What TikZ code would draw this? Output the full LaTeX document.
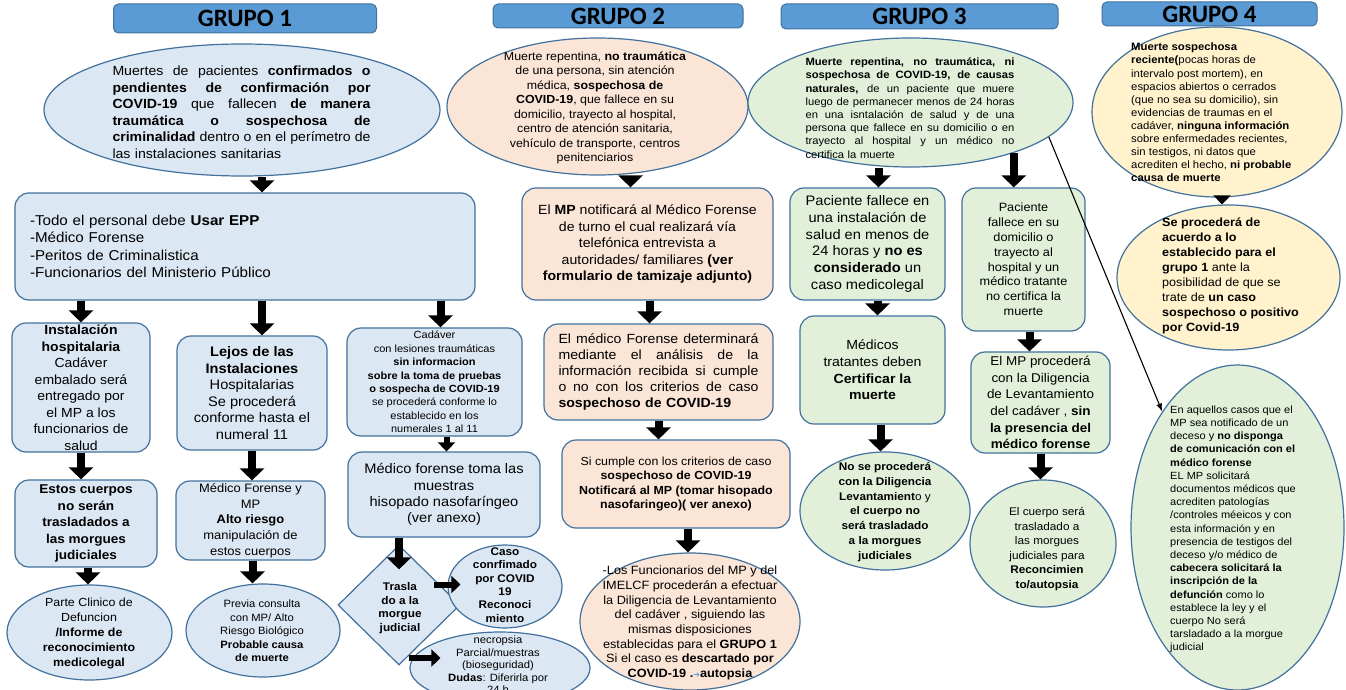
\documentclass[tikz,border=0pt]{standalone}
\usepackage{fontspec}
\setmainfont{Liberation Sans}[FakeStretch=1.06]
\newfontfamily\grpfont{Carlito}
\newfontfamily\symfont{DejaVu Sans}
\usepackage{tikz}
\usetikzlibrary{
	arrows.meta,
	shapes.geometric,
	positioning
}
\definecolor{LineBlue}{RGB}{65,113,156}
\definecolor{TitleBlue}{RGB}{91,155,213}
\definecolor{PaleBlue}{RGB}{220,231,244}
\definecolor{PalePeach}{RGB}{251,229,214}
\definecolor{PaleGreen}{RGB}{226,240,217}
\definecolor{PaleYellow}{RGB}{255,242,204}
\newcommand{\fsz}[2]{\fontsize{#1}{#2}\selectfont}
\newcommand{\jl}[2]{\makebox[#1pt][s]{\spaceskip=0pt\xspaceskip=0pt #2}}

\begin{document}
\begin{tikzpicture}[x=1pt, y=-1pt,
	grpbar/.style={rectangle, rounded corners=5pt, draw=LineBlue, line width=1pt, fill=TitleBlue, inner sep=0pt, font=\grpfont\bfseries\fsz{25}{28}},
	roundbox/.style={rectangle, rounded corners=14pt, draw=LineBlue, line width=1.2pt, inner sep=0pt, align=center},
	ovalnode/.style={ellipse, draw=LineBlue, line width=1.2pt, inner sep=0pt},
	txt/.style={inner sep=0pt, align=center},
	bigarr/.style={line width=8pt, -{Triangle[width=24pt,length=12pt]}},
	smallarr/.style={line width=6pt, -{Triangle[width=17pt,length=9pt]}},
	thinarr/.style={line width=1.1pt, -{Latex[length=8pt,width=6pt]}}]
			\useasboundingbox[fill=white] (0,0) rectangle (1346,690);
			\node[grpbar, minimum width=263, minimum height=29] (g1bar) at (245,18.5) {GRUPO 1};
			\node[grpbar, minimum width=250, minimum height=24] (g2bar) at (618,16) {GRUPO 2};
			\node[grpbar, minimum width=277, minimum height=25] (g3bar) at (919.5,16.5) {GRUPO 3};
			\node[grpbar, minimum width=215, minimum height=24] (g4bar) at (1209.5,14) {GRUPO 4};

			\node[ovalnode, fill=PaleBlue, minimum width=396, minimum height=132] (e1) at (242,110) {};
			\node[txt, align=left, text width=258, font=\fsz{13.3}{16.5}] (e1t) at (241.5,112) {\jl{258}{Muertes de pacientes \textbf{confirmados o}}\\\jl{258}{\textbf{pendientes de confirmación por}}\\\jl{258}{\textbf{COVID-19} que fallecen \textbf{de manera}}\\\jl{258}{\textbf{traumática o sospechosa de}}\\\jl{258}{\textbf{criminalidad} dentro o en el perímetro de}\\las instalaciones sanitarias};
			\node[roundbox, fill=PaleBlue, minimum width=460, minimum height=107, text width=430, align=left, font=\fsz{14.3}{17.5}] (b1) at (245,246.5) {-Todo el personal debe \textbf{Usar EPP}\\-Médico Forense\\-Peritos de Criminalistica\\-Funcionarios del Ministerio Público};
			\node[roundbox, fill=PaleBlue, minimum width=138, minimum height=129, font=\fsz{13.2}{16.5}] (i1) at (81,387.5) {\textbf{Instalación}\\\textbf{hospitalaria}\\Cadáver\\embalado será\\entregado por\\el MP a los\\funcionarios de\\salud};
			\node[roundbox, fill=PaleBlue, minimum width=142, minimum height=87, font=\bfseries\fsz{12.8}{16.5}] (i2) at (86,523.5) {Estos cuerpos\\no serán\\trasladados a\\las morgues\\judiciales};
			\node[ovalnode, fill=PaleBlue, minimum width=165, minimum height=95] (i3) at (89.5,632.5) {};
			\node[txt, font=\fsz{11.7}{15}] (i3t) at (89,633) {Parte Clinico de\\Defuncion\\\textbf{/Informe de}\\\textbf{reconocimiento}\\\textbf{medicolegal}};
			\node[roundbox, fill=PaleBlue, minimum width=150, minimum height=114, font=\fsz{13.8}{16.6}] (l1) at (252,393) {\textbf{Lejos de las}\\\textbf{Instalaciones}\\Hospitalarias\\Se procederá\\conforme hasta el\\numeral 11};
			\node[roundbox, fill=PaleBlue, minimum width=149, minimum height=79, font=\fsz{12.2}{15.7}] (l2) at (250.5,520.5) {Médico Forense y\\MP\\\textbf{Alto riesgo}\\manipulación de\\estos cuerpos};
			\node[ovalnode, fill=PaleBlue, minimum width=154, minimum height=93] (l3) at (263,630.5) {};
			\node[txt, font=\fsz{10.6}{13.5}] (l3t) at (262,631) {Previa consulta\\con MP/ Alto\\Riesgo Biológico\\\textbf{Probable causa}\\\textbf{de muerte}};
			\node[roundbox, fill=PaleBlue, minimum width=175, minimum height=108, font=\fsz{10.4}{13.4}] (c1) at (434.5,382) {Cadáver\\con lesiones traumáticas\\\textbf{sin informacion}\\\textbf{sobre la toma de pruebas}\\\textbf{o sospecha de COVID-19}\\se procederá conforme lo\\establecido en los\\numerales 1 al 11};
			\node[roundbox, fill=PaleBlue, minimum width=192, minimum height=85, font=\fsz{13.8}{16.2}] (c2) at (444,494.5) {Médico forense toma las\\muestras\\hisopado nasofaríngeo\\(ver anexo)};
			\node[diamond, draw=LineBlue, line width=1.2pt, fill=PaleBlue, inner sep=0pt, minimum width=122, minimum height=120] (d) at (399,605) {};
			\node[txt, font=\bfseries\fsz{11.1}{13.7}] (dt) at (400,608) {Trasla\\do a la\\morgue\\judicial};
			\node[ovalnode, fill=PaleBlue, minimum width=114, minimum height=83] (caso) at (505,586.5) {};
			\node[txt, font=\bfseries\fsz{11.1}{13.3}] (casot) at (505,585) {Caso\\conrfimado\\por COVID\\19\\Reconoci\\miento};
			\node[ovalnode, fill=PaleBlue, minimum width=180, minimum height=72] (nec) at (500,668) {};
			\node[txt, font=\fsz{10.6}{12.5}] (nect) at (498,665) {necropsia\\Parcial/muestras\\(bioseguridad)\\\textbf{Dudas}: Diferirla por\\24 h};

			\node[ovalnode, fill=PalePeach, minimum width=301, minimum height=137] (e2) at (597.5,106.5) {};
			\node[txt, font=\fsz{11.7}{14.5}] (e2t) at (595,108) {Muerte repentina, \textbf{no traumática}\\de una persona, sin atención\\médica, \textbf{sospechosa de}\\\textbf{COVID-19}, que fallece en su\\domicilio, trayecto al hospital,\\centro de atención sanitaria,\\vehículo de transporte, centros\\penitenciarios};
			\node[roundbox, fill=PalePeach, minimum width=251, minimum height=112, font=\fsz{13.3}{16.5}] (p1) at (647.5,244) {El \textbf{MP} notificará al Médico Forense\\de turno el cual realizará vía\\telefónica entrevista a\\autoridades/ familiares \textbf{(ver}\\\textbf{formulario de tamizaje adjunto)}};
			\node[roundbox, fill=PalePeach, minimum width=229, minimum height=96, text width=200, align=left, font=\fsz{13.3}{16.2}] (p2) at (658.5,372) {\jl{200}{El médico Forense determinará}\\\jl{200}{mediante el análisis de la}\\\jl{200}{información recibida si cumple}\\\jl{200}{o no con los criterios de caso}\\\textbf{sospechoso de COVID-19}};
			\node[roundbox, fill=PalePeach, minimum width=228, minimum height=88, font=\fsz{11.7}{14.6}] (p3) at (676,484) {Si cumple con los criterios de caso\\\textbf{sospechoso de COVID-19}\\\textbf{Notificará al MP (tomar hisopado}\\\textbf{nasofaringeo)( ver anexo)}};
			\node[ovalnode, fill=PalePeach, minimum width=220, minimum height=137] (p4) at (690,621.5) {};
			\node[txt, font=\fsz{12}{14.7}] (p4t) at (690,623) {-Los Funcionarios del MP y del\\IMELCF procederán a efectuar\\la Diligencia de Levantamiento\\del cadáver , siguiendo las\\mismas disposiciones\\establecidas para el \textbf{GRUPO 1}\\Si el caso es \textbf{descartado por}\\\textbf{COVID-19 .}{\symfont\fsz{8}{10}\textcolor{TitleBlue}{➔}}\textbf{autopsia}};

			\node[ovalnode, fill=PaleGreen, minimum width=325, minimum height=129] (e3) at (910.5,102.5) {};
			\node[txt, align=left, text width=209, font=\fsz{10.6}{13.2}] (e3t) at (910,108) {\jl{209}{\textbf{Muerte repentina, no traumática, ni}}\\\jl{209}{\textbf{sospechosa de COVID-19, de causas}}\\\jl{209}{\textbf{naturales,} de un paciente que muere}\\\jl{209}{luego de permanecer menos de 24 horas}\\\jl{209}{en una isntalación de salud y de una}\\\jl{209}{persona que fallece en su domicilio o en}\\\jl{209}{trayecto al hospital y un médico no}\\certifica la muerte};
			\node[roundbox, fill=PaleGreen, minimum width=155, minimum height=112, font=\fsz{13.8}{16.7}] (g1) at (867.5,244) {Paciente fallece en\\una instalación de\\salud en menos de\\24 horas y \textbf{no es}\\\textbf{considerado} un\\caso medicolegal};
			\node[roundbox, fill=PaleGreen, minimum width=145, minimum height=108, font=\fsz{13.3}{16.7}] (g2) at (872.5,370) {Médicos\\tratantes deben\\\textbf{Certificar la}\\\textbf{muerte}};
			\node[ovalnode, fill=PaleGreen, minimum width=170, minimum height=118] (g3) at (885,511) {};
			\node[txt, font=\fsz{11.1}{14.8}] (g3t) at (885,512) {\textbf{No se procederá}\\\textbf{con la Diligencia}\\\textbf{Levantamient}o y\\\textbf{el cuerpo no}\\\textbf{será trasladado}\\\textbf{a la morgues}\\\textbf{judiciales}};
			\node[roundbox, fill=PaleGreen, minimum width=123, minimum height=143, font=\fsz{12}{14.8}] (g4) at (1023.5,259.5) {Paciente\\fallece en su\\domicilio o\\trayecto al\\hospital y un\\médico tratante\\no certifica la\\muerte};
			\node[roundbox, fill=PaleGreen, minimum width=139, minimum height=101, font=\fsz{12.7}{16.6}] (g5) at (1040.5,402.5) {El MP procederá\\con la Diligencia\\de Levantamiento\\del cadáver , \textbf{sin}\\\textbf{la presencia del}\\\textbf{médico forense}};
			\node[ovalnode, fill=PaleGreen, minimum width=146, minimum height=127] (g6) at (1043,543.5) {};
			\node[txt, font=\fsz{11.1}{14.6}] (g6t) at (1047,549) {El cuerpo será\\trasladado a\\las morgues\\judiciales para\\\textbf{Reconcimien}\\\textbf{to/autopsia}};

			\node[ovalnode, fill=PaleYellow, minimum width=250, minimum height=170] (e4) at (1217,112) {};
			\node[txt, align=left, anchor=west, font=\fsz{10.7}{13.1}] (e4t) at (1131,112.5) {\textbf{Muerte sospechosa}\\\textbf{reciente(}pocas horas de\\intervalo post mortem), en\\espacios abiertos o cerrados\\(que no sea su domicilio), sin\\evidencias de traumas en el\\cadáver, \textbf{ninguna información}\\sobre enfermedades recientes,\\sin testigos, ni datos que\\acrediten el hecho, \textbf{ni probable}\\\textbf{causa de muerte}};
			\node[ovalnode, fill=PaleYellow, minimum width=223, minimum height=145] (f2) at (1228.5,277.5) {};
			\node[txt, align=left, anchor=west, font=\fsz{11.9}{15}] (f2t) at (1162,276) {\textbf{Se procederá de}\\\textbf{acuerdo a lo}\\\textbf{establecido para el}\\\textbf{grupo 1} ante la\\posibilidad de que se\\trate de \textbf{un caso}\\\textbf{sospechoso o positivo}\\\textbf{por Covid-19}};
			\node[ovalnode, fill=PaleGreen, minimum width=213, minimum height=325] (f3) at (1237.5,527.5) {};
			\node[txt, align=left, anchor=west, font=\fsz{10.4}{13.2}] (f3t) at (1170,529.5) {En aquellos casos que el\\MP sea notificado de un\\deceso y \textbf{no disponga}\\\textbf{de comunicación con el}\\\textbf{médico forense}\\EL MP solicitará\\documentos médicos que\\acrediten patologías\\/controles méeicos y con\\esta información y en\\presencia de testigos del\\deceso y/o médico de\\\textbf{cabecera solicitará la}\\\textbf{inscripción de la}\\\textbf{defunción} como lo\\establece la ley y el\\cuerpo No será\\tarsladado a la morgue\\judicial};

			\draw[bigarr] ([xshift=20]e1.south) -- ([xshift=20]e1.south |- b1.north);
			\draw[bigarr] (i1.north |- b1.south) -- (i1.north);
			\draw[bigarr] ([xshift=10]l1.north |- b1.south) -- ([xshift=10]l1.north);
			\draw[bigarr] ([xshift=6]c1.north |- b1.south) -- ([xshift=6]c1.north);
			\draw[bigarr] (i1.south) -- (i1.south |- i2.north);
			\draw[bigarr] ([xshift=2]i2.south) -- ([xshift=2]i2.south |- i3.north);
			\draw[bigarr] (l1.south) -- (l1.south |- l2.north);
			\draw[bigarr] ([xshift=2]l2.south) -- ([xshift=2]l2.south |- l3.north);
			\draw[smallarr] ([xshift=12]c1.south) -- ([xshift=12]c1.south |- c2.north);
			\draw[bigarr] (d.north |- c2.south) -- ([yshift=-25]d.north);
			\draw[smallarr] ([xshift=-13,yshift=2]caso.west) -- ([xshift=13,yshift=2]caso.west);
			\draw[smallarr] ([yshift=10]nec.west) -- ([xshift=31,yshift=10]nec.west);
			\draw[bigarr] ([xshift=33]e2.south) -- ([xshift=33]e2.south |- p1.north);
			\draw[bigarr] ([xshift=2]p1.south) -- ([xshift=2]p1.south |- p2.north);
			\draw[bigarr] (p2.south) -- (p2.south |- p3.north);
			\draw[bigarr] ([xshift=12]p3.south) -- ([xshift=12]p3.south |- p4.north);
			\draw[bigarr] ([xshift=-32]e3.south) -- ([xshift=-32]e3.south |- g1.north);
			\draw[bigarr] (e3.-26) -- (e3.-26 |- g4.north);
			\draw[bigarr] ([xshift=10]g1.south) -- ([xshift=10]g1.south |- g2.north);
			\draw[bigarr] ([xshift=8]g2.south) -- ([xshift=8]g2.south |- g3.north);
			\draw[bigarr] ([xshift=6]g4.south) -- ([xshift=6]g4.south |- g5.north);
			\draw[bigarr] (g5.south) -- (g5.south |- g6.north);
			\draw[smallarr] ([xshift=5]e4.south) -- ([xshift=5]e4.south |- f2.north);
			\draw[thinarr] (e3.-14) -- (f3.123);
		\end{tikzpicture}
\end{document}
